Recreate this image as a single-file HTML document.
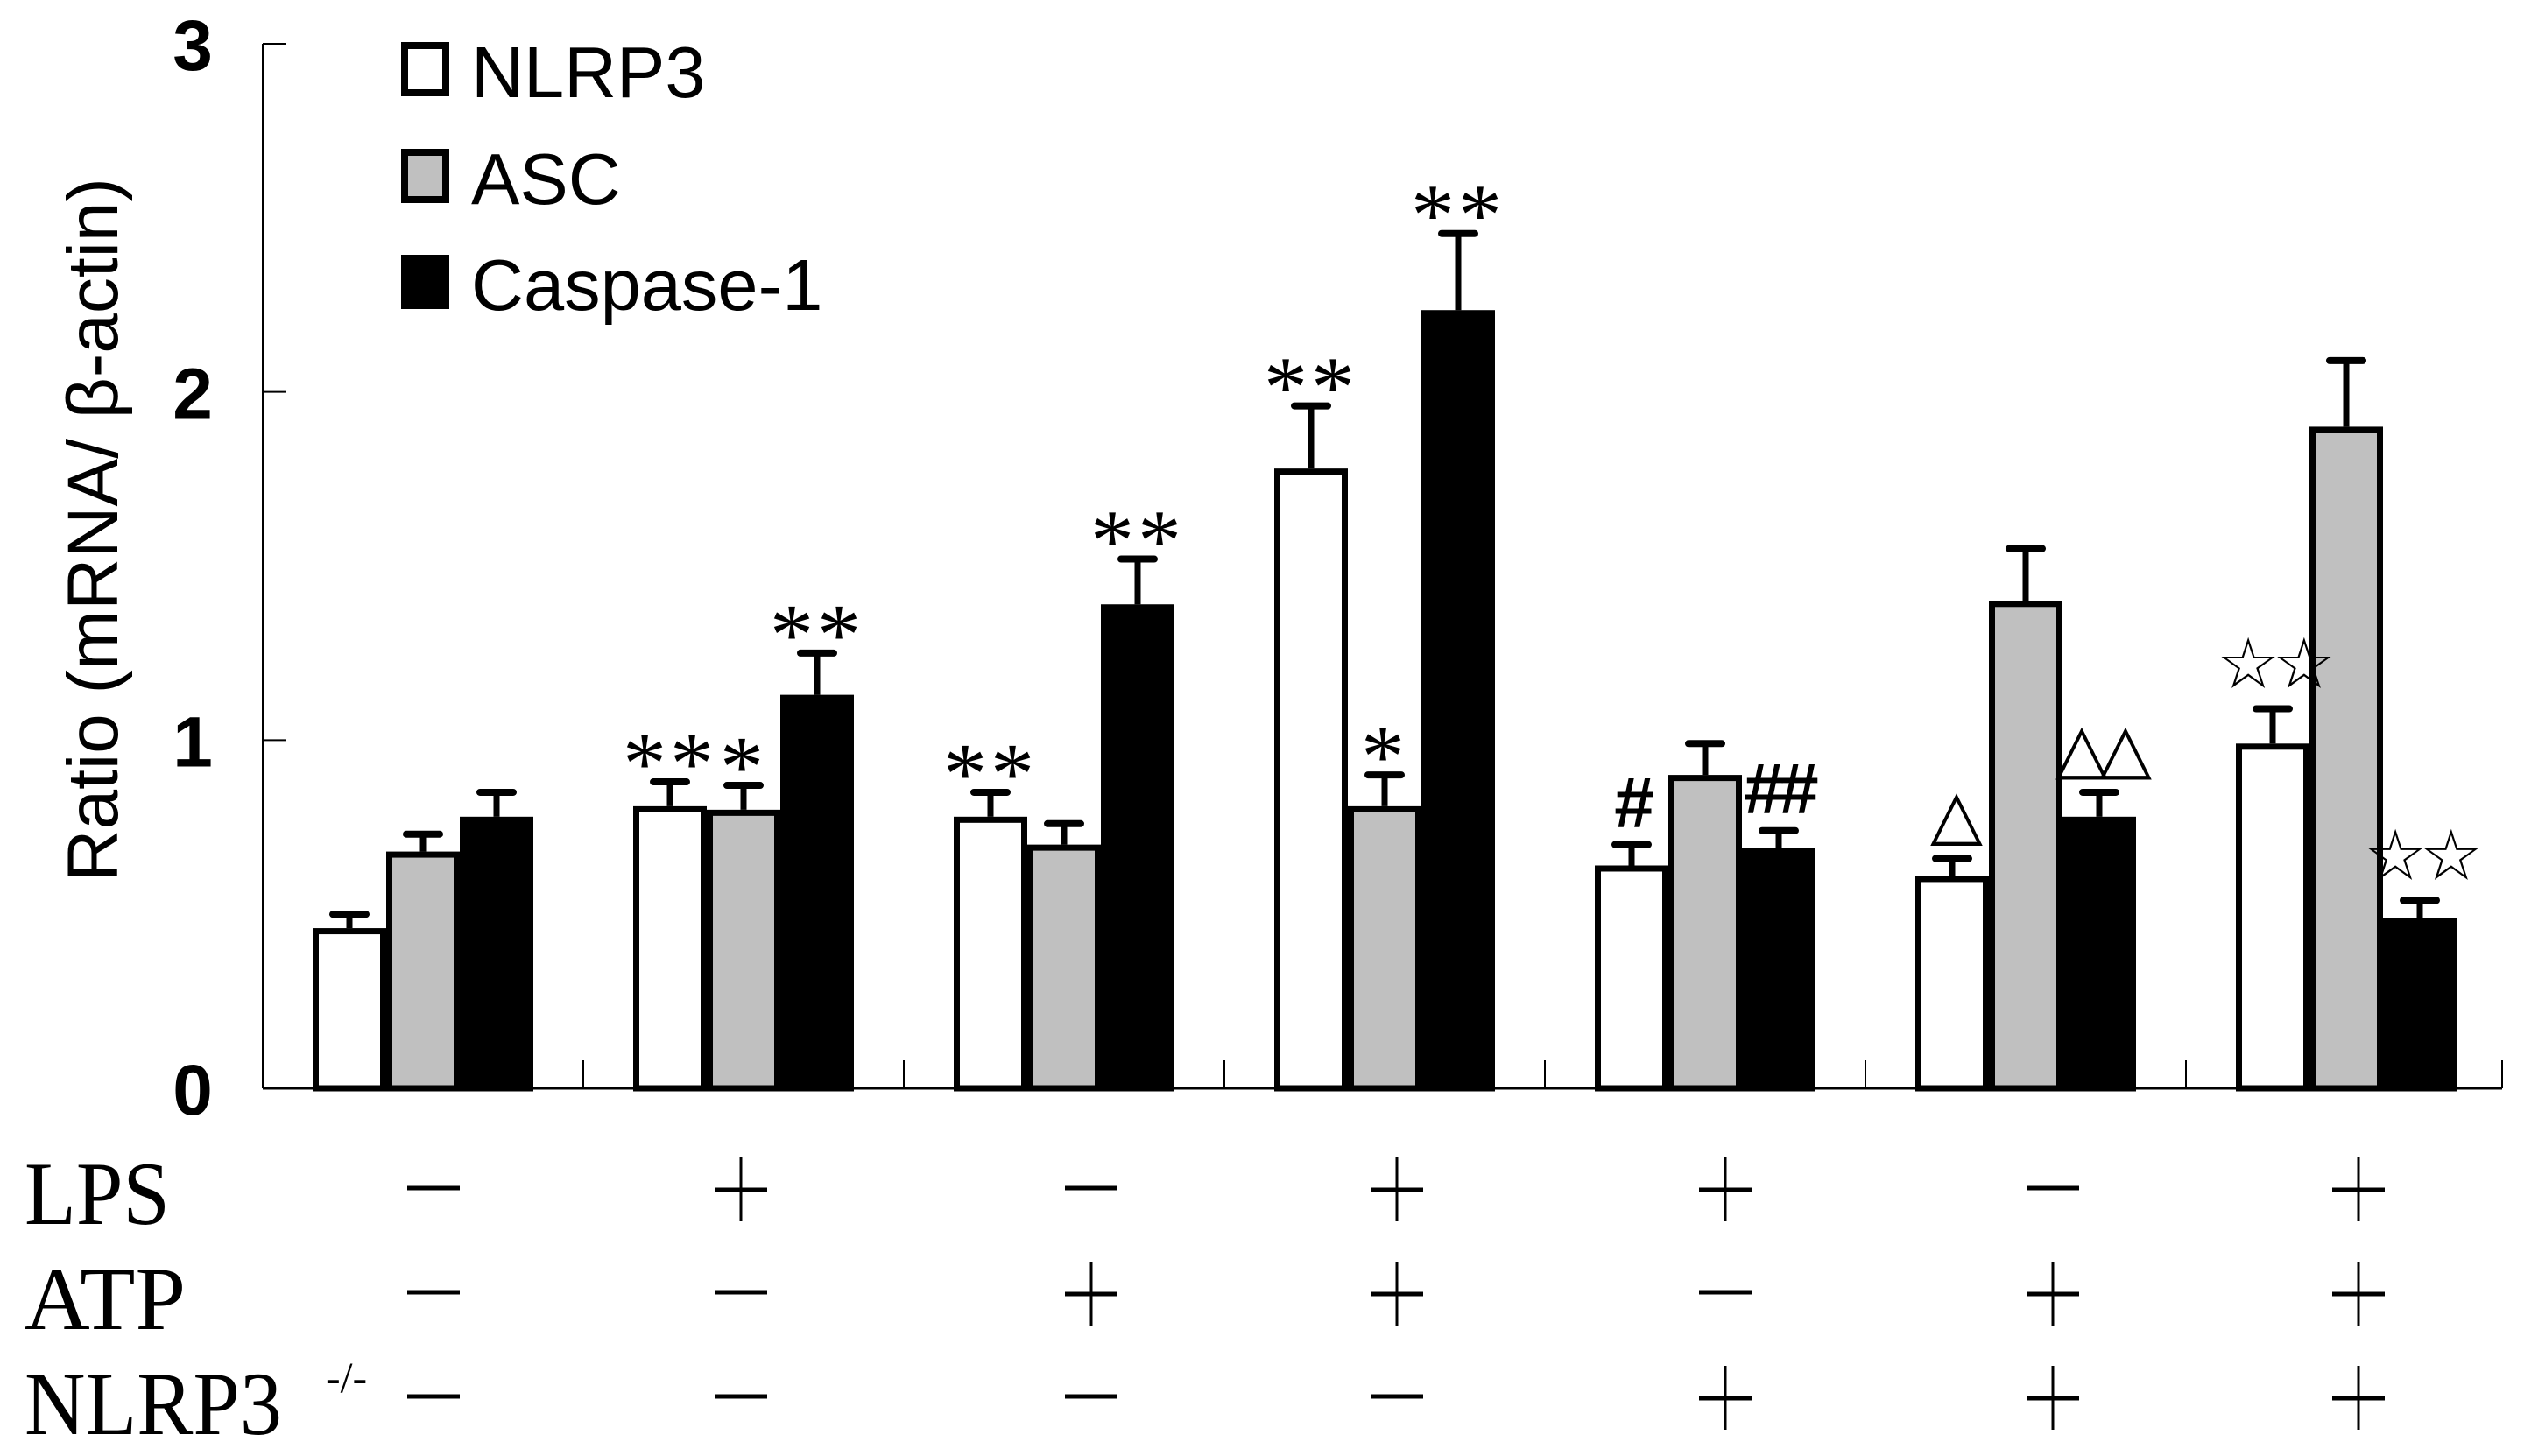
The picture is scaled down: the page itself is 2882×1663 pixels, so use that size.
<!DOCTYPE html>
<html><head><meta charset="utf-8"><style>
html,body{margin:0;padding:0;background:#fff;}
svg{display:block;}
</style></head><body>
<svg id="chart" width="2882" height="1663" viewBox="0 0 2882 1663" xmlns="http://www.w3.org/2000/svg">
<g id="axes"></g>
<g id="bars"></g>
<g id="notes"></g>
<g id="legend"></g>
<g id="conds"></g>
<text transform="translate(134,605) rotate(-90)" text-anchor="middle" font-family="Liberation Sans, sans-serif" font-size="82">Ratio (mRNA/ β-actin)</text>
</svg>
<script>
const series = ['NLRP3','ASC','Caspase-1'];
const nlrp3 = [0.46,0.81,0.78,1.78,0.64,0.61,0.99];
const nlrp3Err = [0.04,0.07,0.07,0.18,0.06,0.05,0.10];
const asc = [0.68,0.80,0.70,0.81,0.90,1.40,1.90];
const ascErr = [0.05,0.07,0.06,0.09,0.09,0.15,0.19];
const casp = [0.78,1.13,1.39,2.235,0.69,0.78,0.49];
const caspErr = [0.07,0.12,0.13,0.22,0.05,0.07,0.05];
const yTicks = [0,1,2,3];
const marksNLRP3 = ['','**','**','**','#','△','☆☆'];
const marksASC = ['','*','','*','','',''];
const marksCasp = ['','**','**','**','##','△△','☆☆'];
const lps = ['-','+','-','+','+','-','+'];
const atp = ['-','-','+','+','-','+','+'];
const ko = ['-','-','-','-','+','+','+'];

const NS='http://www.w3.org/2000/svg';
const X0=300, CW=366, Y0=1243, YTOP=50, YMAX=3, BW=84;
function y(v){return Y0-(Y0-YTOP)*v/YMAX;}
function cx(i){return X0+CW/2+CW*i;}
function mk(tag,attrs,parent){const e=document.createElementNS(NS,tag);for(const k in attrs)e.setAttribute(k,attrs[k]);parent.appendChild(e);return e;}
const axes=document.getElementById('axes'),bars=document.getElementById('bars'),notes=document.getElementById('notes'),legend=document.getElementById('legend'),conds=document.getElementById('conds');

let yl=mk('line',{x1:X0,y1:YTOP,x2:X0,y2:Y0,stroke:'#000','stroke-width':2},axes);


yTicks.forEach(t=>{
  let tk=mk('line',{x1:X0,y1:y(t),x2:X0+27,y2:y(t),stroke:'#000','stroke-width':2},axes);
  
  
  let lb=mk('text',{x:220,y:y(t)+30,'text-anchor':'middle','font-family':'Liberation Sans, sans-serif','font-weight':'bold','font-size':82},axes);
  lb.textContent=t;
  
  
});
let xl=mk('line',{x1:X0,y1:Y0,x2:X0+CW*nlrp3.length-5,y2:Y0,stroke:'#000','stroke-width':3},axes);


for(let k=1;k<=nlrp3.length;k++){
  let xx=k===nlrp3.length?X0+CW*k-5:X0+CW*k;
  let t=mk('line',{x1:xx,y1:Y0-32,x2:xx,y2:Y0,stroke:'#000','stroke-width':2},axes);
  
  
}

const fills=['#fff','#c0c0c0','#000'];
const vals=[nlrp3,asc,casp], errs=[nlrp3Err,ascErr,caspErr], marks=[marksNLRP3,marksASC,marksCasp];
for(let i=0;i<nlrp3.length;i++){
  for(let s=0;s<3;s++){
    const left=cx(i)-1.5*BW+s*BW, v=vals[s][i], e=errs[s][i], bc=left+BW/2;
    let r=mk('rect',{x:left+3.5,y:y(v)+3.5,width:BW-7,height:Y0-y(v)-3.5,fill:fills[s],stroke:'#000','stroke-width':7},bars);
    
    
    let el=mk('line',{x1:bc,y1:y(v),x2:bc,y2:y(v+e),stroke:'#000','stroke-width':7},bars);
    
    
    let cap=mk('line',{x1:bc-19,y1:y(v+e),x2:bc+19,y2:y(v+e),stroke:'#000','stroke-width':8,'stroke-linecap':'round'},bars);
    
    
    const m=marks[s][i];
    if(m){
      let t;
      if(m[0]==='*'){
        t=mk('text',{x:bc,y:y(v+e)-30+42,'text-anchor':'middle','font-family':'Liberation Serif, serif','font-size':100,'letter-spacing':4},notes);
      }else if(m[0]==='#'){
        t=mk('text',{x:bc,y:y(v+e)-20,'text-anchor':'middle','font-family':'Liberation Sans, sans-serif','font-weight':'bold','font-size':82,'letter-spacing':-6},notes);
      }else if(m[0]==='☆'){
        t=mk('text',{x:bc,y:y(v+e)-24,'text-anchor':'middle','font-family':'DejaVu Sans, sans-serif','font-size':80,'letter-spacing':-8},notes);
      }else{
        t=mk('text',{x:bc,y:y(v+e)-24,'text-anchor':'middle','font-family':'DejaVu Sans, sans-serif','font-size':78,'letter-spacing':-10},notes);
      }
      t.textContent=m;
      
      
    }
  }
}

const legY=[48,170,291];
series.forEach((n,s)=>{
  let b=mk('rect',{x:462,y:legY[s]+4,width:47,height:54,fill:fills[s],stroke:'#000','stroke-width':8},legend);
  
  
  let t=mk('text',{x:538,y:legY[s]+63,'font-family':'Liberation Sans, sans-serif','font-size':83},legend);
  t.textContent=n;
  
  
});

const rows=[['LPS',lps,1357,1398,166],['ATP',atp,1476,1518,184],['NLRP3',ko,1595,1638,294]];
const signX=[495,846,1246,1595,1970,2344,2693];
rows.forEach(([name,arr,cy,base,len])=>{
  let t=mk('text',{x:28,y:base,'font-family':'Liberation Serif, serif','font-size':103,textLength:len,lengthAdjust:'spacingAndGlyphs'},conds);
  t.textContent=name;
  
  
  arr.forEach((v,i)=>{
    const x=signX[i];
    let h=mk('line',{x1:x-30,y1:cy+(v==='+'?2:0),x2:x+30,y2:cy+(v==='+'?2:0),stroke:'#000','stroke-width':5},conds);
    
    
    if(v==='+'){
      let vl=mk('line',{x1:x,y1:cy-35,x2:x,y2:cy+38,stroke:'#000','stroke-width':3},conds);
      
      
    }
  });
});
let sup=mk('text',{x:372,y:1590,'font-family':'Liberation Serif, serif','font-size':50},conds);
sup.textContent='-/-';


</script>
</body></html>
